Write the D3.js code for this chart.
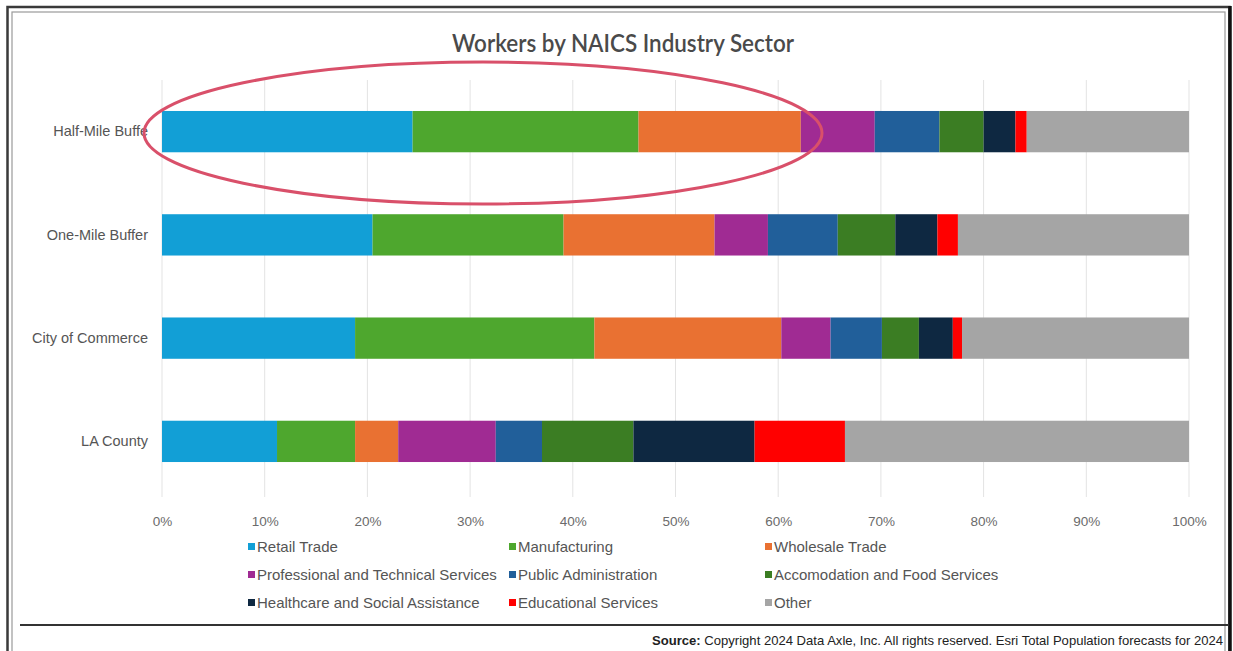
<!DOCTYPE html>
<html>
<head>
<meta charset="utf-8">
<script src="https://cdn.jsdelivr.net/npm/d3@7"></script>
<style>
  html, body { margin: 0; padding: 0; background: #fff; }
  svg { display: block; }
</style>
</head>
<body>
<svg id="chart" width="1233" height="651"></svg>
<script>
// Areas compared, top to bottom
const categories = ["Half-Mile Buffe", "One-Mile Buffer", "City of Commerce", "LA County"];

// Industry sectors in stacking order
const sectors = [
  "Retail Trade", "Manufacturing", "Wholesale Trade",
  "Professional and Technical Services", "Public Administration", "Accomodation and Food Services",
  "Healthcare and Social Assistance", "Educational Services", "Other"
];

// Share of workers (%) per sector, one value per area
const retailTrade        = [24.4, 20.5, 18.8, 11.2];
const manufacturing      = [22.0, 18.6, 23.3, 7.6];
const wholesaleTrade     = [15.8, 14.7, 18.2, 4.2];
const professionalTech   = [7.2, 5.2, 4.8, 9.5];
const publicAdmin        = [6.3, 6.8, 5.0, 4.5];
const accomodationFood   = [4.3, 5.6, 3.6, 8.9];
const healthcareSocial   = [3.1, 4.1, 3.3, 11.8];
const educational        = [1.1, 2.0, 0.9, 8.8];
const other              = [15.8, 22.5, 22.1, 33.5];

const sectorValues = [retailTrade, manufacturing, wholesaleTrade, professionalTech,
  publicAdmin, accomodationFood, healthcareSocial, educational, other];

const xTicks = [0, 10, 20, 30, 40, 50, 60, 70, 80, 90, 100];

const colors = ["#129fd6", "#4ea72e", "#e97132", "#a02b93", "#215f9a",
  "#3b7d23", "#0e2841", "#ff0000", "#a5a5a5"];

// Build rows for d3.stack
const rows = categories.map((c, i) => {
  const r = { area: c };
  sectors.forEach((s, j) => { r[s] = sectorValues[j][i]; });
  return r;
});

const svg = d3.select("#chart");

// Frame around the figure
svg.append("rect").attr("x", 7.5).attr("y", 7).attr("width", 1222).attr("height", 660)
  .attr("fill", "none").attr("stroke", "#3a3a3a").attr("stroke-width", 2.5);
svg.append("rect").attr("x", 12).attr("y", 12).attr("width", 1213).attr("height", 660)
  .attr("fill", "none").attr("stroke", "#9a9a9a").attr("stroke-width", 1.2);
svg.append("line").attr("x1", 1230).attr("x2", 1230).attr("y1", 6).attr("y2", 651)
  .attr("stroke", "#111").attr("stroke-width", 3.5);
svg.append("line").attr("x1", 20).attr("x2", 1229).attr("y1", 625).attr("y2", 625)
  .attr("stroke", "#333").attr("stroke-width", 2);

// Title
svg.append("text").attr("x", 623).attr("y", 52).attr("text-anchor", "middle")
  .attr("font-family", "Lato, 'Open Sans', sans-serif").attr("font-size", 24)
  .attr("font-weight", 600).attr("fill", "#4a4a4a")
  .attr("textLength", 342).attr("lengthAdjust", "spacingAndGlyphs")
  .text("Workers by NAICS Industry Sector");

const x = d3.scaleLinear().domain([0, 100]).range([162, 1189]);
const y = d3.scaleBand().domain(categories).range([80, 493]).paddingInner(0.6).paddingOuter(0.3);

// Vertical gridlines
svg.append("g").selectAll("line").data(xTicks).join("line")
  .attr("x1", d => x(d)).attr("x2", d => x(d))
  .attr("y1", 80).attr("y2", 497)
  .attr("stroke", "#e3e3e3").attr("stroke-width", 1);

// X axis
const xAxis = svg.append("g").attr("transform", "translate(0,497)")
  .call(d3.axisBottom(x).tickValues(xTicks).tickFormat(d => d + "%").tickSize(0).tickPadding(19));
xAxis.select(".domain").remove();
xAxis.selectAll("text").attr("font-family", "'Liberation Sans', Arial, sans-serif")
  .attr("font-size", 13.5).attr("fill", "#6b6b6b");

// Y axis
const yAxis = svg.append("g").attr("transform", "translate(162,0)")
  .call(d3.axisLeft(y).tickSize(0).tickPadding(14));
yAxis.select(".domain").remove();
yAxis.selectAll("text").attr("font-family", "'Liberation Sans', Arial, sans-serif")
  .attr("font-size", 14.5).attr("fill", "#555");

// Stacked bars
const stack = d3.stack().keys(sectors)(rows);
svg.append("g").selectAll("g").data(stack).join("g")
  .attr("fill", (d, i) => colors[i])
  .selectAll("rect").data(d => d).join("rect")
  .attr("x", d => x(d[0]))
  .attr("y", d => y(d.data.area))
  .attr("width", d => x(d[1]) - x(d[0]))
  .attr("height", y.bandwidth());

// Highlight ellipse around the first bar
svg.append("ellipse").attr("cx", 483).attr("cy", 133).attr("rx", 339).attr("ry", 71)
  .attr("fill", "none").attr("stroke", "#d9506a").attr("stroke-width", 3);

// Legend
const legendCols = [248, 509, 765];
const legendRows = [547, 575, 603];
const legend = svg.append("g").selectAll("g").data(sectors).join("g")
  .attr("transform", (d, i) => `translate(${legendCols[i % 3]},${legendRows[Math.floor(i / 3)]})`);
legend.append("rect").attr("x", 0).attr("y", -4).attr("width", 7).attr("height", 7)
  .attr("fill", (d, i) => colors[i]);
legend.append("text").attr("x", 9).attr("y", 0).attr("dy", "0.35em")
  .attr("font-family", "'Liberation Sans', Arial, sans-serif").attr("font-size", 15)
  .attr("fill", "#555").text(d => d);

// Source line
const src = svg.append("text").attr("x", 1223).attr("y", 645).attr("text-anchor", "end")
  .attr("font-family", "'Liberation Sans Narrow', 'Liberation Sans', Arial, sans-serif")
  .attr("font-size", 13).attr("fill", "#222")
  .attr("textLength", 571).attr("lengthAdjust", "spacingAndGlyphs");
src.append("tspan").attr("font-weight", "bold").text("Source:");
src.append("tspan").text(" Copyright 2024 Data Axle, Inc. All rights reserved. Esri Total Population forecasts for 2024");
</script>
</body>
</html>
